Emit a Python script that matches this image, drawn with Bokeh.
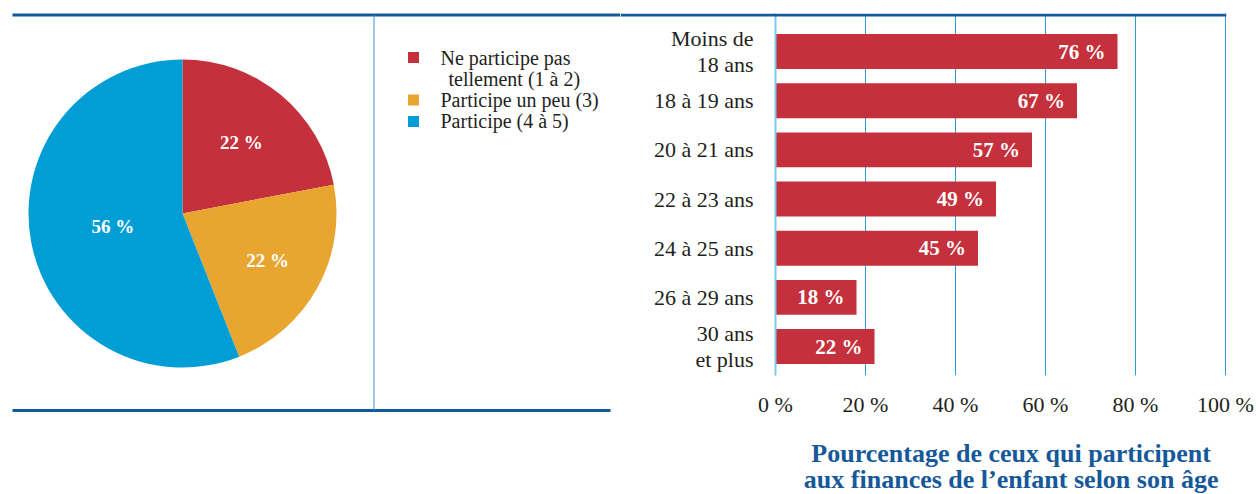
import math
from bokeh.plotting import figure
from bokeh.layouts import row, column
from bokeh.models import Range1d, FixedTicker, Span, ColumnDataSource
from bokeh.core.properties import value
from bokeh.embed import file_html
from bokeh.resources import INLINE

# ---------------- data ----------------
pie_categories = ["Ne participe pas tellement (1 à 2)", "Participe un peu (3)", "Participe (4 à 5)"]
legend_lines = [["Ne participe pas", "tellement (1 à 2)"], ["Participe un peu (3)"], ["Participe (4 à 5)"]]
pie_values = [22, 22, 56]
pie_value_labels = ["22 %", "22 %", "56 %"]
pie_colors = ["#c4303b", "#e8a631", "#009ed5"]

age_groups = ["Moins de\n18 ans", "18 à 19 ans", "20 à 21 ans", "22 à 23 ans",
              "24 à 25 ans", "26 à 29 ans", "30 ans\net plus"]
bar_values = [76, 67, 57, 49, 45, 18, 22]
bar_value_labels = ["76 %", "67 %", "57 %", "49 %", "45 %", "18 %", "22 %"]
x_ticks = [0, 20, 40, 60, 80, 100]
x_tick_labels = ["0 %", "20 %", "40 %", "60 %", "80 %", "100 %"]
title_lines = ["Pourcentage de ceux qui participent", "aux finances de l’enfant selon son âge"]

# ---------------- styles ----------------
FONT = "Liberation Serif"
TEXT_COLOR = "#231f20"
DARK_BLUE = "#15599a"
GRID_BLUE = "#2f9ad4"
ZERO_BLUE = "#7cc9ec"
SEP_BLUE = "#3990c9"
BAR_RED = "#c4303b"

H = 494

# ---------------- left panel: pie + legend ----------------
LW = 620
left = figure(width=LW, height=H, x_range=Range1d(0, LW), y_range=Range1d(0, H),
              toolbar_location=None, output_backend="svg",
              x_axis_location=None, y_axis_location=None, min_border=0,
              outline_line_color=None)
left.grid.visible = False

# frame lines
left.line(x=[12, LW], y=[479.5, 479.5], line_width=3, line_color=DARK_BLUE)
left.line(x=[12, 610], y=[84, 84], line_width=3, line_color=DARK_BLUE)
left.line(x=[373.5, 373.5], y=[84, 479.5], line_width=1, line_color=SEP_BLUE)

cx, cy, R = 182, 281, 154
total = float(sum(pie_values))
starts, ends, cum = [], [], 0.0
for v in pie_values:
    starts.append(math.pi / 2 - 2 * math.pi * cum / total)
    cum += v
    ends.append(math.pi / 2 - 2 * math.pi * cum / total)

pie_src = ColumnDataSource(dict(start=starts, end=ends, color=pie_colors, cat=pie_categories))
left.wedge(x=cx, y=cy, radius=R, start_angle="start", end_angle="end", direction="clock",
           fill_color="color", line_color=None, source=pie_src)

label_r = [0.6, 0.63, 0.46]
lx, ly = [], []
for s, e, f in zip(starts, ends, label_r):
    m = (s + e) / 2
    lx.append(cx + R * f * math.cos(m))
    ly.append(cy + R * f * math.sin(m))
left.text(x=lx, y=ly, text=pie_value_labels, text_color="white", text_align="center",
          text_baseline="middle", text_font=value(FONT), text_font_size="19px",
          text_font_style="bold")

# legend
sq_x, tx = 413, 440
line_pitch = 21.3
first_y = H - 57
sq_xs, sq_ys, t_xs, t_ys, t_txt = [], [], [], [], []
k = 0
for lines, col in zip(legend_lines, pie_colors):
    sq_xs.append(sq_x)
    sq_ys.append(first_y - k * line_pitch)
    for j, t in enumerate(lines):
        t_xs.append(tx + (8 if j > 0 else 0))
        t_ys.append(first_y - k * line_pitch)
        t_txt.append(t)
        k += 1
left.rect(x=sq_xs, y=sq_ys, width=11, height=11, fill_color=pie_colors, line_color=None)
left.text(x=t_xs, y=t_ys, text=t_txt, text_color=TEXT_COLOR, text_align="left",
          text_baseline="middle", text_font=value(FONT), text_font_size="20px")

# ---------------- right panel: bar chart ----------------
RW = 636
BH = 433
px_per_unit = 4.5
bar = figure(width=RW, height=BH,
             x_range=Range1d(-155 / px_per_unit, 100 + 1 / px_per_unit),
             y_range=Range1d(6.589, -0.773),
             toolbar_location=None, output_backend="svg",
             x_axis_location="below", y_axis_location=None,
             min_border_left=0, min_border_right=30, min_border_top=13, min_border_bottom=58,
             outline_line_color=None)

bar.xgrid.ticker = FixedTicker(ticks=x_ticks)
bar.xgrid.grid_line_color = GRID_BLUE
bar.xgrid.grid_line_width = 1
bar.ygrid.visible = False

bar.xaxis.ticker = FixedTicker(ticks=x_ticks)
bar.xaxis.major_label_overrides = {t: lab for t, lab in zip(x_ticks, x_tick_labels)}
bar.xaxis.axis_line_color = None
bar.xaxis.major_tick_line_color = None
bar.xaxis.minor_tick_line_color = None
bar.xaxis.major_label_standoff = 10
bar.xaxis.major_label_text_font = FONT
bar.xaxis.major_label_text_font_size = "22px"
bar.xaxis.major_label_text_color = TEXT_COLOR

bar.add_layout(Span(location=0, dimension="height", line_color=ZERO_BLUE, line_width=2))
bar.add_layout(Span(location=-0.742, dimension="width", line_color=DARK_BLUE, line_width=3))

idx = list(range(len(age_groups)))
bsrc = ColumnDataSource(dict(y=idx, v=bar_values, lab=bar_value_labels, cat=age_groups,
                             zero=[0] * len(idx)))
bar.hbar(y="y", left=0, right="v", height=0.71, fill_color=BAR_RED, line_color=None, source=bsrc)
bar.text(x="v", y="y", text="lab", x_offset=-12, text_align="right", text_baseline="middle",
         text_color="white", text_font=value(FONT), text_font_size="21px",
         text_font_style="bold", source=bsrc)
bar.text(x="zero", y="y", text="cat", x_offset=-22, text_align="right", text_baseline="middle",
         text_color=TEXT_COLOR, text_font=value(FONT), text_font_size="22px",
         text_line_height=1.05, source=bsrc)

# ---------------- title panel ----------------
TH = H - BH
tfig = figure(width=RW, height=TH, x_range=Range1d(0, RW), y_range=Range1d(TH, 0),
              toolbar_location=None, output_backend="svg",
              x_axis_location=None, y_axis_location=None, min_border=0,
              outline_line_color=None)
tfig.grid.visible = False
tfig.text(x=[410] * len(title_lines), y=[20 + 26 * i for i in range(len(title_lines))],
          text=title_lines, text_align="center", text_baseline="middle",
          text_color=DARK_BLUE, text_font=value(FONT), text_font_size="26px",
          text_font_style="bold")

layout = row(left, column(bar, tfig))
open("out.html", "w").write(file_html(layout, INLINE))
